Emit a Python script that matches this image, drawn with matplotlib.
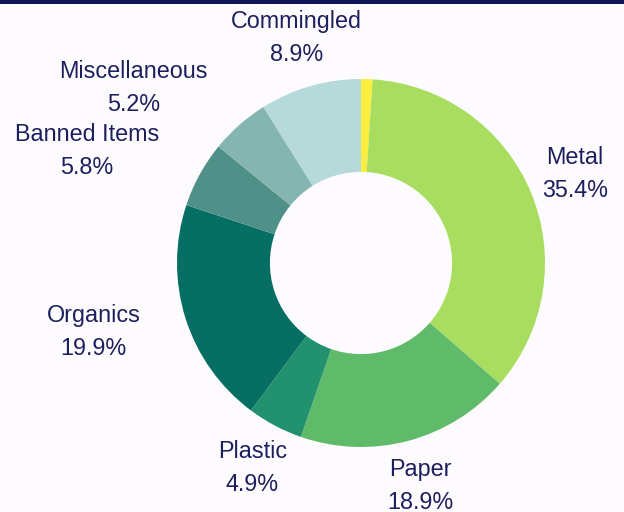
import numpy as np
import matplotlib
matplotlib.use('Agg')
import matplotlib.pyplot as plt
from matplotlib.patches import Rectangle

plt.rcParams['font.family'] = ['Liberation Sans', 'DejaVu Sans']

# Waste composition (share of total, %)
categories = ['Other', 'Metal', 'Paper', 'Plastic', 'Organics',
              'Banned Items', 'Miscellaneous', 'Commingled']
shares = [1.0, 35.4, 18.9, 4.9, 19.9, 5.8, 5.2, 8.9]
show_label = [False, True, True, True, True, True, True, True]

colors = ['#fcee3f', '#a8dd5f', '#5fba69', '#22916e', '#066e62',
          '#4f9189', '#84b5b1', '#b6d9d9']
text_color = '#1c1f5e'
bg = '#fdfbfe'

# label placement: radial factor and angle nudge (deg) per slice
label_r = [1.26, 1.26, 1.255, 1.26, 1.5, 1.61, 1.56, 1.27]
label_da = [0, 0, 0, 0, -3, 6.5, 11, 0]

R_PX = 184.0
fig = plt.figure(figsize=(6.24, 5.12), dpi=100, facecolor=bg)
ax = fig.add_axes([0, 0, 1, 1])
ax.set_facecolor(bg)

wedges, _ = ax.pie(shares, colors=colors, startangle=90, counterclock=False,
                   radius=1.0, wedgeprops=dict(width=0.505, linewidth=0))

for w, name, val, show, rf, da in zip(wedges, categories, shares, show_label,
                                       label_r, label_da):
    if not show:
        continue
    ang = np.deg2rad((w.theta1 + w.theta2) / 2 + da)
    x, y = rf * np.cos(ang), rf * np.sin(ang)
    ax.text(x, y, f'{name}\n{val:.1f}%', ha='center', va='center',
            fontsize=16.8, color=text_color, linespacing=1.55)

cx, cy = 361, 249  # donut centre in pixels from left / bottom
ax.set_xlim(-cx / R_PX, (624 - cx) / R_PX)
ax.set_ylim(-cy / R_PX, (512 - cy) / R_PX)
ax.set_aspect('equal')
ax.axis('off')

# navy strip along the top edge
fig.patches.append(Rectangle((0, 1 - 4 / 512), 1, 4 / 512, transform=fig.transFigure,
                             facecolor='#12145a', edgecolor='none'))

fig.savefig('out.png', dpi=100, facecolor=bg)
